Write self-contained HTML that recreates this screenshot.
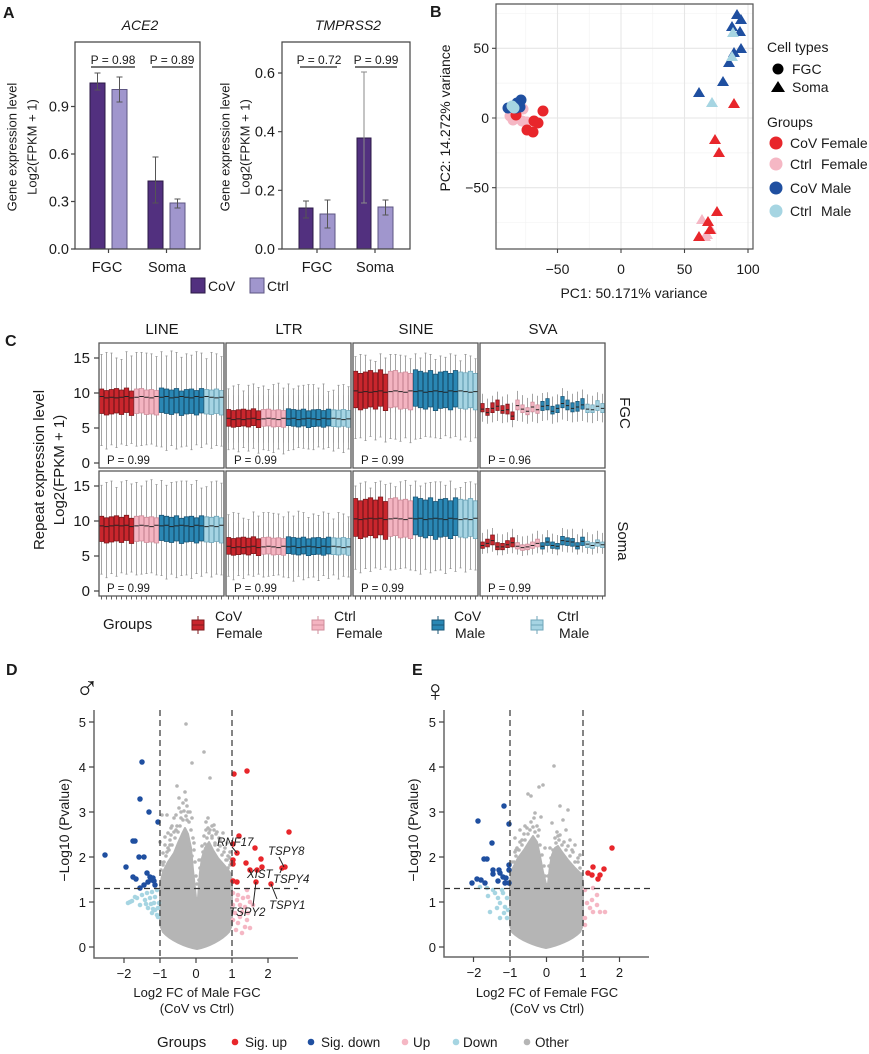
<!DOCTYPE html>
<html><head><meta charset="utf-8"><style>
html,body{margin:0;padding:0;background:#fff}
svg{display:block}
text{font-family:"Liberation Sans",Arial,sans-serif;fill:#1a1a1a}
rect,path,line,circle{vector-effect:non-scaling-stroke}
.r{fill:#c9262d;stroke:#7e191d;stroke-width:.8}
.p{fill:#f4b4c1;stroke:#cf8d9b;stroke-width:.8}
.b{fill:#2a87b4;stroke:#1a5676;stroke-width:.8}
.l{fill:#a6d4e3;stroke:#6fa6ba;stroke-width:.8}
</style></head><body>
<svg xmlns="http://www.w3.org/2000/svg" xmlns:xlink="http://www.w3.org/1999/xlink" width="869" height="1054" viewBox="0 0 869 1054">
<defs>
<g id="BX">
<rect class="r" x=".3" y=".02" width="4.4" height="1"/><rect class="r" x="5.3" y="-.04" width="4.4" height="1"/><rect class="r" x="10.3" y="0" width="4.4" height="1"/><rect class="r" x="15.3" y=".04" width="4.4" height="1"/><rect class="r" x="20.3" y="-.02" width="4.4" height="1"/><rect class="r" x="25.3" y=".06" width="4.4" height="1"/><rect class="r" x="30.3" y="-.06" width="4.4" height="1"/>
<rect class="p" x="35.3" y=".02" width="4.4" height="1"/><rect class="p" x="40.3" y=".04" width="4.4" height="1"/><rect class="p" x="45.3" y="-.02" width="4.4" height="1"/><rect class="p" x="50.3" y="0" width="4.4" height="1"/><rect class="p" x="55.3" y="-.04" width="4.4" height="1"/>
<rect class="b" x="60.3" y=".06" width="4.4" height="1"/><rect class="b" x="65.3" y=".02" width="4.4" height="1"/><rect class="b" x="70.3" y="-.02" width="4.4" height="1"/><rect class="b" x="75.3" y=".04" width="4.4" height="1"/><rect class="b" x="80.3" y="-.06" width="4.4" height="1"/><rect class="b" x="85.3" y="0" width="4.4" height="1"/><rect class="b" x="90.3" y=".02" width="4.4" height="1"/><rect class="b" x="95.3" y="-.04" width="4.4" height="1"/><rect class="b" x="100.3" y=".04" width="4.4" height="1"/>
<rect class="l" x="105.3" y="0" width="4.4" height="1"/><rect class="l" x="110.3" y="-.02" width="4.4" height="1"/><rect class="l" x="115.3" y=".02" width="4.4" height="1"/><rect class="l" x="120.3" y="-.04" width="4.4" height="1"/>
</g>
<path id="MD" fill="none" stroke="#222" stroke-width="1" d="M.3 .1h4.4M5.3-.1h4.4M10.3 0h4.4M15.3-.1h4.4M20.3 0h4.4M25.3 .1h4.4M30.3-.1h4.4M35.3 0h4.4M40.3 .1h4.4M45.3 0h4.4M50.3-.1h4.4M55.3 .1h4.4M60.3 0h4.4M65.3 .1h4.4M70.3-.1h4.4M75.3 0h4.4M80.3 .1h4.4M85.3 0h4.4M90.3-.1h4.4M95.3 .1h4.4M100.3 0h4.4M105.3 .1h4.4M110.3 0h4.4M115.3-.1h4.4M120.3 0h4.4"/>
<path id="wT" fill="none" stroke="#9c9c9c" stroke-width=".9" d="M2.5-8V0M1.5 0h2M7.5-8V.3M6.5 .3h2M12.5-8V.2M11.5 .2h2M17.5-8V-.5M16.5-.5h2M22.5-8V-.7M21.5-.7h2M27.5-8V.4M26.5 .4h2M32.5-8V-.2M31.5-.2h2M37.5-8V.3M36.5 .3h2M42.5-8V.3M41.5 .3h2M47.5-8V.2M46.5 .2h2M52.5-8V.1M51.5 .1h2M57.5-8V-.3M56.5-.3h2M62.5-8V.4M61.5 .4h2M67.5-8V-.2M66.5-.2h2M72.5-8V.5M71.5 .5h2M77.5-8V.3M76.5 .3h2M82.5-8V-.4M81.5-.4h2M87.5-8V.1M86.5 .1h2M92.5-8V-.1M91.5-.1h2M97.5-8V.4M96.5 .4h2M102.5-8V.2M101.5 .2h2M107.5-8V-.6M106.5-.6h2M112.5-8V.3M111.5 .3h2M117.5-8V.1M116.5 .1h2M122.5-8V-.3M121.5-.3h2"/>
<path id="wB" fill="none" stroke="#9c9c9c" stroke-width=".9" d="M2.5 8V.3M1.5 .3h2M7.5 8V-.2M6.5-.2h2M12.5 8V.4M11.5 .4h2M17.5 8V0M16.5 0h2M22.5 8V.5M21.5 .5h2M27.5 8V.3M26.5 .3h2M32.5 8V.6M31.5 .6h2M37.5 8V.2M36.5 .2h2M42.5 8V.3M41.5 .3h2M47.5 8V.4M46.5 .4h2M52.5 8V.5M51.5 .5h2M57.5 8V.2M56.5 .2h2M62.5 8V.1M61.5 .1h2M67.5 8V-.4M66.5-.4h2M72.5 8V.3M71.5 .3h2M77.5 8V-.2M76.5-.2h2M82.5 8V.1M81.5 .1h2M87.5 8V.2M86.5 .2h2M92.5 8V-.3M91.5-.3h2M97.5 8V.4M96.5 .4h2M102.5 8V0M101.5 0h2M107.5 8V.5M106.5 .5h2M112.5 8V-.1M111.5-.1h2M117.5 8V.3M116.5 .3h2M122.5 8V.2M121.5 .2h2"/>
</defs>

<!-- ================= PANEL A ================= -->
<text x="3" y="18" font-size="16" font-weight="bold">A</text>
<text x="140" y="30" font-size="14" font-style="italic" text-anchor="middle">ACE2</text>
<text x="348" y="30" font-size="14" font-style="italic" text-anchor="middle">TMPRSS2</text>
<rect x="90" y="83" width="15" height="166" fill="#52307f" stroke="#2b1a45"/>
<rect x="112" y="89.5" width="15" height="159.5" fill="#a096cd" stroke="#5d5582"/>
<rect x="148" y="181" width="15" height="68" fill="#52307f" stroke="#2b1a45"/>
<rect x="170" y="203" width="15" height="46" fill="#a096cd" stroke="#5d5582"/>
<path fill="none" stroke="#555" stroke-width="1" d="M97.5 73V90M94.5 73h6M94.5 90h6M119.5 77V102M116.5 77h6M116.5 102h6M155.5 157V203M152.5 157h6M152.5 203h6M177.5 199V208M174.5 199h6M174.5 208h6"/>
<rect x="75" y="42" width="125" height="207" fill="none" stroke="#444" stroke-width="1.2"/>
<path stroke="#444" stroke-width="1.2" d="M71 249h4M71 201.5h4M71 154h4M71 106.5h4M108.5 249v4M166.5 249v4"/>
<g font-size="14.5" text-anchor="end">
<text x="69" y="254">0.0</text><text x="69" y="206.5">0.3</text><text x="69" y="159">0.6</text><text x="69" y="111.5">0.9</text>
</g>
<g font-size="14.5" text-anchor="middle"><text x="107" y="272">FGC</text><text x="167" y="272">Soma</text></g>
<path stroke="#222" stroke-width="1.3" d="M91 67H135M152 67H193"/>
<g font-size="12" text-anchor="middle"><text x="113" y="64">P = 0.98</text><text x="172" y="64">P = 0.89</text></g>
<g font-size="13" text-anchor="middle">
<text transform="translate(16.5,147) rotate(-90)">Gene expression level</text>
<text transform="translate(36.5,147) rotate(-90)">Log2(FPKM + 1)</text>
</g>
<rect x="299" y="208" width="14" height="41" fill="#52307f" stroke="#2b1a45"/>
<rect x="320" y="214" width="15" height="35" fill="#a096cd" stroke="#5d5582"/>
<rect x="357" y="138" width="14" height="111" fill="#52307f" stroke="#2b1a45"/>
<rect x="378" y="207" width="15" height="42" fill="#a096cd" stroke="#5d5582"/>
<path fill="none" stroke="#555" stroke-width="1" d="M306 201V218M303 201h6M303 218h6M327.5 200V228M324.5 200h6M324.5 228h6M385.5 200V215M382.5 200h6M382.5 215h6"/>
<path fill="none" stroke="#8a8a8a" stroke-width="1" d="M364 72V203M361 72h6M361 203h6"/>
<rect x="282" y="42" width="128" height="207" fill="none" stroke="#444" stroke-width="1.2"/>
<path stroke="#444" stroke-width="1.2" d="M278 249h4M278 190.3h4M278 131.7h4M278 73h4M317 249v4M375 249v4"/>
<g font-size="14.5" text-anchor="end">
<text x="275" y="254">0.0</text><text x="275" y="195.3">0.2</text><text x="275" y="136.7">0.4</text><text x="275" y="78">0.6</text>
</g>
<g font-size="14.5" text-anchor="middle"><text x="317" y="272">FGC</text><text x="375" y="272">Soma</text></g>
<path stroke="#222" stroke-width="1.3" d="M300 67H337M355 67H397"/>
<g font-size="12" text-anchor="middle"><text x="319" y="64">P = 0.72</text><text x="376" y="64">P = 0.99</text></g>
<g font-size="13" text-anchor="middle">
<text transform="translate(229.5,147) rotate(-90)">Gene expression level</text>
<text transform="translate(249.5,147) rotate(-90)">Log2(FPKM + 1)</text>
</g>
<rect x="191" y="278" width="14" height="15" fill="#52307f" stroke="#2b1a45"/>
<text x="208" y="291" font-size="14">CoV</text>
<rect x="250" y="278" width="14" height="15" fill="#a096cd" stroke="#5d5582"/>
<text x="267" y="291" font-size="14">Ctrl</text>

<!-- ================= PANEL B ================= -->
<text x="430" y="17" font-size="16" font-weight="bold">B</text>
<path stroke="#f3f3f3" stroke-width=".7" d="M525.75 4V249M589.25 4V249M652.75 4V249M716.25 4V249M496 13.45H753M496 83.15H753M496 152.85H753M496 222.55H753"/>
<path stroke="#e6e6e6" stroke-width="1.1" d="M557.5 4V249M621 4V249M684.5 4V249M748 4V249M496 48.3H753M496 118H753M496 187.7H753"/>
<g>
<circle cx="510" cy="116" r="5.5" fill="#f5b7c4"/><circle cx="513" cy="120" r="5.5" fill="#f5b7c4"/><circle cx="523" cy="109" r="5.5" fill="#f5b7c4"/><circle cx="522" cy="121" r="5.5" fill="#f5b7c4"/><circle cx="527" cy="122" r="5.5" fill="#f5b7c4"/>
<circle cx="543" cy="111" r="5.5" fill="#e8262b"/><circle cx="534" cy="121" r="5.5" fill="#e8262b"/><circle cx="538" cy="123" r="5.5" fill="#e8262b"/><circle cx="527" cy="130" r="5.5" fill="#e8262b"/><circle cx="533" cy="132" r="5.5" fill="#e8262b"/><circle cx="516" cy="115" r="5.5" fill="#e8262b"/>
<circle cx="508" cy="108" r="5.5" fill="#1f4fa0"/><circle cx="513" cy="106" r="5.5" fill="#1f4fa0"/><circle cx="517" cy="103" r="5.5" fill="#1f4fa0"/><circle cx="521" cy="100" r="5.5" fill="#1f4fa0"/><circle cx="516" cy="108" r="5.5" fill="#1f4fa0"/><circle cx="520" cy="107" r="5.5" fill="#1f4fa0"/>
<circle cx="514" cy="108" r="5.5" fill="#a6d5e2"/><circle cx="512" cy="106" r="5.5" fill="#a6d5e2"/>
</g>
<g>
<path fill="#f5b7c4" d="M702 214l6 10h-12zM711 224l6 10h-12zM705 231l6 10h-12zM707 229l6 10h-12z"/>
<path fill="#e8262b" d="M734 98l6 10h-12zM715 134l6 10h-12zM719 147l6 10h-12zM717 206l6 10h-12zM708 216l6 10h-12zM710 224l6 10h-12zM699 231l6 10h-12z"/>
<path fill="#1f4fa0" d="M737 9l6 10h-12zM741 14l6 10h-12zM732 21l6 10h-12zM740 26l6 10h-12zM741 43l6 10h-12zM734 47l6 10h-12zM729 57l6 10h-12zM723 76l6 10h-12zM699 87l6 10h-12z"/>
<path fill="#a6d5e2" d="M733 27l6 10h-12zM732 51l6 10h-12zM712 97l6 10h-12z"/>
</g>
<rect x="496" y="4" width="257" height="245" fill="none" stroke="#555" stroke-width="1.2"/>
<path stroke="#444" stroke-width="1.1" d="M492 48.3h4M492 118h4M492 187.7h4M557.5 249v4M621 249v4M684.5 249v4M748 249v4"/>
<g font-size="14" text-anchor="end"><text x="489" y="53">50</text><text x="489" y="123">0</text><text x="489" y="192.7">−50</text></g>
<g font-size="14" text-anchor="middle"><text x="557.5" y="274">−50</text><text x="621" y="274">0</text><text x="684.5" y="274">50</text><text x="748" y="274">100</text></g>
<text x="634" y="298" font-size="14" text-anchor="middle">PC1: 50.171% variance</text>
<text transform="translate(450,118) rotate(-90)" font-size="14" text-anchor="middle">PC2: 14.272% variance</text>
<text x="767" y="52" font-size="14">Cell types</text>
<circle cx="778" cy="69" r="5.5" fill="#000"/><text x="792" y="74" font-size="14">FGC</text>
<path d="M778 81l7 11h-14z" fill="#000"/><text x="792" y="92" font-size="14">Soma</text>
<text x="767" y="127" font-size="14">Groups</text>
<circle cx="776" cy="143" r="6.5" fill="#e8262b"/><circle cx="776" cy="164" r="6.5" fill="#f5b7c4"/><circle cx="776" cy="188" r="6.5" fill="#1f4fa0"/><circle cx="776" cy="211" r="6.5" fill="#a6d5e2"/>
<g font-size="14">
<text x="790" y="148">CoV</text><text x="821" y="148">Female</text>
<text x="790" y="169">Ctrl</text><text x="821" y="169">Female</text>
<text x="790" y="193">CoV</text><text x="821" y="193">Male</text>
<text x="790" y="216">Ctrl</text><text x="821" y="216">Male</text>
</g>

<!-- ================= PANEL C ================= -->
<text x="5" y="346" font-size="16" font-weight="bold">C</text>
<g font-size="15" text-anchor="middle">
<text x="162" y="334">LINE</text><text x="289" y="334">LTR</text><text x="416" y="334">SINE</text><text x="543" y="334">SVA</text>
</g>
<g transform="translate(99,463) scale(1,-7)"><use href="#wT" xlink:href="#wT" y="15.5"/><use href="#wB" xlink:href="#wB" y="2.2"/><use href="#BX" xlink:href="#BX" transform="translate(0,7) scale(1,3.5)"/><use href="#MD" xlink:href="#MD" y="9.4"/></g>
<g transform="translate(226,463) scale(1,-7)"><use href="#wT" xlink:href="#wT" transform="translate(125,0) scale(-1,1)" y="10.9"/><use href="#wB" xlink:href="#wB" transform="translate(125,0) scale(-1,1)" y="1.7"/><use href="#BX" xlink:href="#BX" transform="translate(0,5.2) scale(1,2.4)"/><use href="#MD" xlink:href="#MD" y="6.3"/></g>
<g transform="translate(353,463) scale(1,-7)"><use href="#wT" xlink:href="#wT" y="15.2"/><use href="#wB" xlink:href="#wB" transform="translate(125,0) scale(-1,1)" y="3.3"/><use href="#BX" xlink:href="#BX" transform="translate(0,7.8) scale(1,5.2)"/><use href="#MD" xlink:href="#MD" y="10.2"/></g>
<g transform="translate(480,463) scale(1,-7)">
<path fill="none" stroke="#9c9c9c" stroke-width=".9" d="M2.5 5.9V9.9M7.5 5.6V9.2M12.5 5.8V9.6M17.5 6V10.2M22.5 5.7V9.5M27.5 5.8V9.8M32.5 5.1V8.6M37.5 6V10.3M42.5 5.9V9.7M47.5 5.6V9.3M52.5 5.9V9.9M57.5 5.7V9.6M62.5 6V10M67.5 6.1V10.1M72.5 5.6V9.5M77.5 5.8V9.8M82.5 6.2V10.7M87.5 6V10.3M92.5 5.8V9.9M97.5 5.9V10.2M102.5 6V10.5M107.5 5.8V9.8M112.5 5.7V9.6M117.5 6V10.1M122.5 5.8V9.9"/>
<rect class="r" x=".8" y="7.3" width="3.4" height="1.2"/><rect class="r" x="5.8" y="6.8" width="3.4" height="1"/><rect class="r" x="10.8" y="7.2" width="3.4" height="1.4"/><rect class="r" x="15.8" y="7.5" width="3.4" height="1.5"/><rect class="r" x="20.8" y="7.1" width="3.4" height="1.1"/><rect class="r" x="25.8" y="7" width="3.4" height="1.4"/><rect class="r" x="30.8" y="6.2" width="3.4" height="1.1"/>
<rect class="p" x="35.8" y="7.6" width="3.4" height="1.4"/><rect class="p" x="40.8" y="7.2" width="3.4" height="1.1"/><rect class="p" x="45.8" y="6.9" width="3.4" height="1"/><rect class="p" x="50.8" y="7.3" width="3.4" height="1.4"/><rect class="p" x="55.8" y="7.1" width="3.4" height="1.2"/>
<rect class="b" x="60.8" y="7.5" width="3.4" height="1.3"/><rect class="b" x="65.8" y="7.6" width="3.4" height="1.6"/><rect class="b" x="70.8" y="7" width="3.4" height="1.1"/><rect class="b" x="75.8" y="7.2" width="3.4" height="1.1"/><rect class="b" x="80.8" y="7.9" width="3.4" height="1.6"/><rect class="b" x="85.8" y="7.6" width="3.4" height="1.4"/><rect class="b" x="90.8" y="7.3" width="3.4" height="1.3"/><rect class="b" x="95.8" y="7.4" width="3.4" height="1.4"/><rect class="b" x="100.8" y="7.7" width="3.4" height="1.5"/>
<rect class="l" x="105.8" y="7.2" width="3.4" height="1.2"/><rect class="l" x="110.8" y="7.2" width="3.4" height="1.1"/><rect class="l" x="115.8" y="7.5" width="3.4" height="1.4"/><rect class="l" x="120.8" y="7.2" width="3.4" height="1.3"/>
<path fill="none" stroke="#222" stroke-width="1" d="M.8 7.7h3.4M5.8 7.2h3.4M10.8 7.8h3.4M15.8 8.1h3.4M20.8 7.5h3.4M25.8 7.6h3.4M30.8 6.7h3.4M35.8 8.2h3.4M40.8 7.7h3.4M45.8 7.4h3.4M50.8 8h3.4M55.8 7.6h3.4M60.8 8.1h3.4M65.8 8.2h3.4M70.8 7.4h3.4M75.8 7.8h3.4M80.8 8.5h3.4M85.8 8.2h3.4M90.8 7.8h3.4M95.8 8h3.4M100.8 8.3h3.4M105.8 7.7h3.4M110.8 7.6h3.4M115.8 8.1h3.4M120.8 7.8h3.4"/>
</g>
<g transform="translate(99,591) scale(1,-7)"><use href="#wT" xlink:href="#wT" transform="translate(125,0) scale(-1,1)" y="15.4"/><use href="#wB" xlink:href="#wB" y="2.1"/><use href="#BX" xlink:href="#BX" transform="translate(0,7) scale(1,3.6)"/><use href="#MD" xlink:href="#MD" transform="translate(125,0) scale(-1,1)" y="9.3"/></g>
<g transform="translate(226,591) scale(1,-7)"><use href="#wT" xlink:href="#wT" y="10.9"/><use href="#wB" xlink:href="#wB" y="1.8"/><use href="#BX" xlink:href="#BX" transform="translate(0,5.2) scale(1,2.4)"/><use href="#MD" xlink:href="#MD" y="6.3"/></g>
<g transform="translate(353,591) scale(1,-7)"><use href="#wT" xlink:href="#wT" transform="translate(125,0) scale(-1,1)" y="15.3"/><use href="#wB" xlink:href="#wB" y="2.8"/><use href="#BX" xlink:href="#BX" transform="translate(0,7.7) scale(1,5.4)"/><use href="#MD" xlink:href="#MD" transform="translate(125,0) scale(-1,1)" y="10.3"/></g>
<g transform="translate(480,591) scale(1,-7)">
<path fill="none" stroke="#9c9c9c" stroke-width=".9" d="M2.5 5.3V8.3M7.5 5.4V8.8M12.5 5.6V9M17.5 5.1V8.2M22.5 5.1V8.1M27.5 5.3V8.4M32.5 5.4V8.9M37.5 5.2V8M42.5 5V7.8M47.5 5.1V7.9M52.5 5.2V8.2M57.5 5.4V8.6M62.5 5.2V8.1M67.5 5.5V8.7M72.5 5.3V8.2M77.5 5.1V8M82.5 5.6V9M87.5 5.5V8.8M92.5 5.5V8.9M97.5 5.2V8.1M102.5 5.5V8.9M107.5 5.3V8.4M112.5 5.2V8.1M117.5 5.4V8.6M122.5 5.3V8.3"/>
<rect class="r" x=".6" y="6.1" width="3.8" height=".9"/><rect class="r" x="5.6" y="6.3" width="3.8" height="1.1"/><rect class="r" x="10.6" y="6.6" width="3.8" height="1.4"/><rect class="r" x="15.6" y="5.9" width="3.8" height="1"/><rect class="r" x="20.6" y="5.9" width="3.8" height=".9"/><rect class="r" x="25.6" y="6.2" width="3.8" height="1"/><rect class="r" x="30.6" y="6.3" width="3.8" height="1.3"/>
<rect class="p" x="35.6" y="6" width="3.8" height=".9"/><rect class="p" x="40.6" y="5.8" width="3.8" height=".8"/><rect class="p" x="45.6" y="5.9" width="3.8" height=".8"/><rect class="p" x="50.6" y="6.1" width="3.8" height=".9"/><rect class="p" x="55.6" y="6.3" width="3.8" height="1.1"/>
<rect class="b" x="60.6" y="6" width="3.8" height=".9"/><rect class="b" x="65.6" y="6.5" width="3.8" height="1.1"/><rect class="b" x="70.6" y="6.1" width="3.8" height=".9"/><rect class="b" x="75.6" y="6" width="3.8" height=".8"/><rect class="b" x="80.6" y="6.6" width="3.8" height="1.2"/><rect class="b" x="85.6" y="6.5" width="3.8" height="1.1"/><rect class="b" x="90.6" y="6.4" width="3.8" height="1.1"/><rect class="b" x="95.6" y="6" width="3.8" height=".9"/><rect class="b" x="100.6" y="6.5" width="3.8" height="1.2"/>
<rect class="l" x="105.6" y="6.2" width="3.8" height=".9"/><rect class="l" x="110.6" y="6.1" width="3.8" height=".8"/><rect class="l" x="115.6" y="6.4" width="3.8" height=".9"/><rect class="l" x="120.6" y="6.2" width="3.8" height=".8"/>
<path fill="none" stroke="#222" stroke-width="1" d="M.6 6.5h3.8M5.6 6.8h3.8M10.6 7.2h3.8M15.6 6.3h3.8M20.6 6.3h3.8M25.6 6.6h3.8M30.6 6.9h3.8M35.6 6.4h3.8M40.6 6.2h3.8M45.6 6.3h3.8M50.6 6.5h3.8M55.6 6.8h3.8M60.6 6.4h3.8M65.6 7h3.8M70.6 6.5h3.8M75.6 6.4h3.8M80.6 7.2h3.8M85.6 7.1h3.8M90.6 7h3.8M95.6 6.4h3.8M100.6 7.1h3.8M105.6 6.7h3.8M110.6 6.5h3.8M115.6 6.9h3.8M120.6 6.6h3.8"/>
</g>
<g fill="none" stroke="#555" stroke-width="1.3">
<rect x="99" y="343" width="125" height="125"/><rect x="226" y="343" width="125" height="125"/><rect x="353" y="343" width="125" height="125"/><rect x="480" y="343" width="125" height="125"/>
<rect x="99" y="471" width="125" height="125"/><rect x="226" y="471" width="125" height="125"/><rect x="353" y="471" width="125" height="125"/><rect x="480" y="471" width="125" height="125"/>
</g>
<path stroke="#666" stroke-width="3" stroke-dasharray="1 4" d="M101 598H224M228 598H351M355 598H478M482 598H605"/>
<path stroke="#444" stroke-width="1.2" d="M94 358h5M94 393h5M94 428h5M94 463h5M94 486h5M94 521h5M94 556h5M94 591h5"/>
<g font-size="15" text-anchor="end">
<text x="90" y="363">15</text><text x="90" y="398">10</text><text x="90" y="433">5</text><text x="90" y="468">0</text>
<text x="90" y="491">15</text><text x="90" y="526">10</text><text x="90" y="561">5</text><text x="90" y="596">0</text>
</g>
<g font-size="11.5">
<text x="107" y="464">P = 0.99</text><text x="234" y="464">P = 0.99</text><text x="361" y="464">P = 0.99</text><text x="488" y="464">P = 0.96</text>
<text x="107" y="592">P = 0.99</text><text x="234" y="592">P = 0.99</text><text x="361" y="592">P = 0.99</text><text x="488" y="592">P = 0.99</text>
</g>
<g font-size="15" text-anchor="middle">
<text transform="translate(44,470) rotate(-90)">Repeat expression level</text>
<text transform="translate(64,470) rotate(-90)">Log2(FPKM + 1)</text>
<text transform="translate(620,413) rotate(90)">FGC</text>
<text transform="translate(618,541) rotate(90)">Soma</text>
</g>
<text x="103" y="629" font-size="15">Groups</text>
<g stroke-width="1">
<path stroke="#7e191d" d="M198 616v4M198 630v4"/><rect x="192" y="620" width="12" height="10" fill="#c9262d" stroke="#7e191d"/><path stroke="#7e191d" d="M192 625h12"/>
<path stroke="#cf8d9b" d="M318 616v4M318 630v4"/><rect x="312" y="620" width="12" height="10" fill="#f4b4c1" stroke="#cf8d9b"/><path stroke="#cf8d9b" d="M312 625h12"/>
<path stroke="#1a5676" d="M438 616v4M438 630v4"/><rect x="432" y="620" width="12" height="10" fill="#2a87b4" stroke="#1a5676"/><path stroke="#1a5676" d="M432 625h12"/>
<path stroke="#6fa6ba" d="M537 616v4M537 630v4"/><rect x="531" y="620" width="12" height="10" fill="#a6d4e3" stroke="#6fa6ba"/><path stroke="#6fa6ba" d="M531 625h12"/>
</g>
<g font-size="14">
<text x="215" y="621">CoV</text><text x="216" y="638">Female</text>
<text x="334" y="621">Ctrl</text><text x="336" y="638">Female</text>
<text x="454" y="621">CoV</text><text x="455" y="638">Male</text>
<text x="557" y="621">Ctrl</text><text x="559" y="638">Male</text>
</g>

<!-- ================= PANEL D ================= -->
<text x="6" y="675" font-size="16" font-weight="bold">D</text>
<text x="75" y="699" font-size="32" font-family="DejaVu Sans, sans-serif">♂</text>
<path fill="#b5b5b5" stroke="#b5b5b5" stroke-width="2" stroke-linejoin="round" d="M197 949C185 947 170 940 163 932L160 925L160 885L163 872L168 862L174 853L178 843L182 834L185 828L188 834L191 848L193 870L196 898L198 898L200 872L202 858L205 848L209 842L213 850L218 858L225 866L231 874L232 885L232 925L229 932C222 940 208 947 197 949Z"/>
<path fill="none" stroke="#b5b5b5" stroke-width="3.6" stroke-linecap="round" d="M186 724h0M204 752h0M192 763h0M210 778h0M177 786h0M179 798h0M185 792h0M162 815h0M167 815h0M168 833h0M165 837h0M171 828h0M217 832h0M223 833h0M220 840h0M227 843h0M163 853h0M170 845h0M227 860h0M230 852h0M214 825h0M208 818h0M212 836h0M199 860h0M196 876h0M161 870h0M161 862h0M174 818h0M181 812h0M215 845h0M228 868h0M160 842h0M176 830h0M187 820h0M206 830h0
M164 862h0M166 856h0M169 850h0M172 845h0M175 838h0M178 832h0M180 826h0M183 820h0M186 816h0M189 822h0M191 830h0M193 838h0M194 850h0M195 862h0M170 840h0M174 832h0M177 826h0M181 818h0M184 811h0M187 806h0M190 812h0M192 818h0M168 848h0M163 865h0M165 845h0M172 826h0M179 808h0M183 803h0M186 800h0M188 812h0M176 815h0M171 835h0M167 852h0M194 843h0M192 856h0M197 884h0
M199 880h0M200 868h0M201 860h0M203 852h0M205 844h0M207 838h0M209 833h0M212 838h0M215 843h0M218 850h0M222 855h0M226 860h0M230 865h0M204 836h0M208 828h0M212 826h0M216 834h0M220 846h0M224 852h0M228 856h0M231 862h0M206 822h0M210 830h0M214 830h0M219 838h0M202 846h0M225 848h0M230 858h0"/>
<path fill="none" stroke="#a6d5e2" stroke-width="4.6" stroke-linecap="round" d="M128 903h0M132 901h0M137 898h0M142 895h0M147 893h0M152 892h0M157 890h0M145 900h0M150 898h0M155 897h0M148 908h0M153 909h0M158 908h0M152 913h0M157 915h0M140 905h0M154 903h0M159 903h0M130 902h0M148 908h0M158 917h0M155 910h0M135 897h0M146 904h0M151 904h0"/>
<path fill="none" stroke="#f5b7c4" stroke-width="4.6" stroke-linecap="round" d="M233 893h0M238 895h0M243 898h0M248 897h0M250 902h0M240 905h0M245 907h0M235 913h0M240 917h0M247 920h0M250 928h0M245 927h0M238 923h0M233 920h0M242 912h0M248 913h0M237 900h0M233 905h0M247 890h0M253 905h0M236 930h0M242 933h0"/>
<path fill="none" stroke="#1f4fa0" stroke-width="5.5" stroke-linecap="round" d="M142 762h0M140 799h0M149 812h0M158 822h0M105 855h0M133 841h0M135 841h0M139 857h0M144 857h0M126 867h0M133 877h0M136 879h0M147 873h0M150 877h0M152 880h0M153 878h0M148 882h0M144 885h0M140 888h0M155 885h0M154 881h0"/>
<path fill="none" stroke="#e8262b" stroke-width="5.5" stroke-linecap="round" d="M234 774h0M247 771h0M239 836h0M233 844h0M237 853h0M255 848h0M233 860h0M233 864h0M246 863h0M261 859h0M250 870h0M257 870h0M262 867h0M289 832h0M282 868h0M285 867h0M233 881h0M237 882h0M256 882h0M271 884h0"/>
<path fill="none" stroke="#333" stroke-width="1.2" stroke-dasharray="6 4" d="M160 710V958M232 710V958M94 888.5H298"/>
<path fill="none" stroke="#666" stroke-width="1.5" d="M94 710V958H298"/>
<path stroke="#444" stroke-width="1.2" d="M89 947h5M89 902h5M89 857h5M89 812h5M89 767h5M89 722h5M124 958v5M160 958v5M196 958v5M232 958v5M268 958v5"/>
<g font-size="13" text-anchor="end"><text x="86" y="952">0</text><text x="86" y="907">1</text><text x="86" y="862">2</text><text x="86" y="817">3</text><text x="86" y="772">4</text><text x="86" y="727">5</text></g>
<g font-size="13" text-anchor="middle"><text x="124" y="978">−2</text><text x="160" y="978">−1</text><text x="196" y="978">0</text><text x="232" y="978">1</text><text x="268" y="978">2</text></g>
<text transform="translate(69,830) rotate(-90)" font-size="14" text-anchor="middle">−Log10 (Pvalue)</text>
<g font-size="13" text-anchor="middle"><text x="197" y="997">Log2 FC of Male FGC</text><text x="197" y="1013">(CoV vs Ctrl)</text></g>
<g font-size="11.5" font-style="italic">
<text x="217" y="846">RNF17</text><text x="268" y="855">TSPY8</text><text x="247" y="878">XIST</text><text x="273" y="883">TSPY4</text><text x="269" y="909">TSPY1</text><text x="229" y="916">TSPY2</text>
</g>
<path fill="none" stroke="#222" stroke-width="1" d="M232 847L237 853M279 857L284 867M280 873L282 868M271 884L277 899M256 882L253 906"/>

<!-- ================= PANEL E ================= -->
<text x="412" y="675" font-size="16" font-weight="bold">E</text>
<text x="424" y="701" font-size="30" font-family="DejaVu Sans, sans-serif">♀</text>
<path fill="#b5b5b5" stroke="#b5b5b5" stroke-width="2" stroke-linejoin="round" d="M546 948C535 946 520 940 512 932L510 925L510 880L513 868L518 858L524 850L529 842L533 836L537 842L540 856L543 872L546 884L548 884L550 866L552 855L555 848L558 846L562 852L568 860L575 868L582 875L583 885L583 925L580 932C572 940 557 946 546 948Z"/>
<path fill="none" stroke="#b5b5b5" stroke-width="3.6" stroke-linecap="round" d="M554 766h0M543 785h0M539 787h0M528 794h0M531 796h0M560 806h0M568 810h0M535 813h0M541 817h0M552 823h0M563 820h0M520 830h0M525 826h0M515 838h0M570 840h0M575 845h0M580 855h0M516 850h0M512 862h0M566 830h0M545 848h0M572 850h0M578 862h0M511 872h0M558 836h0M522 840h0
M514 862h0M516 856h0M519 850h0M522 845h0M525 840h0M528 834h0M530 830h0M533 827h0M535 832h0M538 836h0M540 845h0M542 855h0M544 866h0M545 876h0M520 842h0M524 834h0M527 828h0M531 822h0M534 818h0M537 826h0M539 830h0M517 848h0M548 876h0M549 866h0M551 858h0M553 850h0M556 843h0M559 840h0M562 845h0M566 850h0M570 856h0M575 862h0M580 868h0M582 874h0M555 838h0M560 835h0M564 842h0M568 846h0M573 852h0M578 858h0M550 848h0M557 832h0M512 870h0M515 852h0"/>
<path fill="none" stroke="#a6d5e2" stroke-width="4.6" stroke-linecap="round" d="M480 887h0M488 896h0M490 912h0M495 893h0M498 898h0M500 903h0M503 893h0M505 907h0M500 918h0M507 918h0M502 890h0M507 898h0M497 908h0M508 910h0M493 890h0M487 888h0M504 913h0"/>
<path fill="none" stroke="#f5b7c4" stroke-width="4.6" stroke-linecap="round" d="M585 890h0M593 888h0M597 895h0M592 900h0M587 903h0M597 905h0M593 912h0M600 912h0M605 912h0M585 918h0M585 925h0M590 908h0"/>
<path fill="none" stroke="#1f4fa0" stroke-width="5.5" stroke-linecap="round" d="M478 821h0M504 806h0M509 824h0M492 843h0M484 859h0M487 859h0M493 870h0M499 870h0M500 873h0M509 865h0M509 870h0M493 874h0M503 877h0M506 878h0M498 881h0M477 879h0M481 880h0M472 883h0M485 883h0M505 883h0M509 883h0"/>
<path fill="none" stroke="#e8262b" stroke-width="5.5" stroke-linecap="round" d="M612 848h0M593 867h0M604 869h0M588 873h0M592 875h0M600 875h0M598 879h0"/>
<path fill="none" stroke="#333" stroke-width="1.2" stroke-dasharray="6 4" d="M510 710V957M583 710V957M444 888.5H650"/>
<path fill="none" stroke="#666" stroke-width="1.5" d="M444 710V957H649"/>
<path stroke="#444" stroke-width="1.2" d="M439 947h5M439 902h5M439 857h5M439 812h5M439 767h5M439 722h5M473.5 957v5M510 957v5M546.5 957v5M583 957v5M619.5 957v5"/>
<g font-size="13" text-anchor="end"><text x="436" y="952">0</text><text x="436" y="907">1</text><text x="436" y="862">2</text><text x="436" y="817">3</text><text x="436" y="772">4</text><text x="436" y="727">5</text></g>
<g font-size="13" text-anchor="middle"><text x="474" y="977">−2</text><text x="510" y="977">−1</text><text x="546.5" y="977">0</text><text x="583" y="977">1</text><text x="619.5" y="977">2</text></g>
<text transform="translate(418,830) rotate(-90)" font-size="14" text-anchor="middle">−Log10 (Pvalue)</text>
<g font-size="13" text-anchor="middle"><text x="547" y="997">Log2 FC of Female FGC</text><text x="547" y="1013">(CoV vs Ctrl)</text></g>

<text x="157" y="1047" font-size="15">Groups</text>
<circle cx="235" cy="1042" r="3.3" fill="#e8262b"/><text x="245" y="1047" font-size="13.5">Sig. up</text>
<circle cx="311" cy="1042" r="3.3" fill="#1f4fa0"/><text x="321" y="1047" font-size="13.5">Sig. down</text>
<circle cx="405" cy="1042" r="3.3" fill="#f5b7c4"/><text x="413" y="1047" font-size="13.5">Up</text>
<circle cx="456" cy="1042" r="3.3" fill="#a6d5e2"/><text x="463" y="1047" font-size="13.5">Down</text>
<circle cx="527" cy="1042" r="3.3" fill="#b5b5b5"/><text x="535" y="1047" font-size="13.5">Other</text>
</svg>
</body></html>
